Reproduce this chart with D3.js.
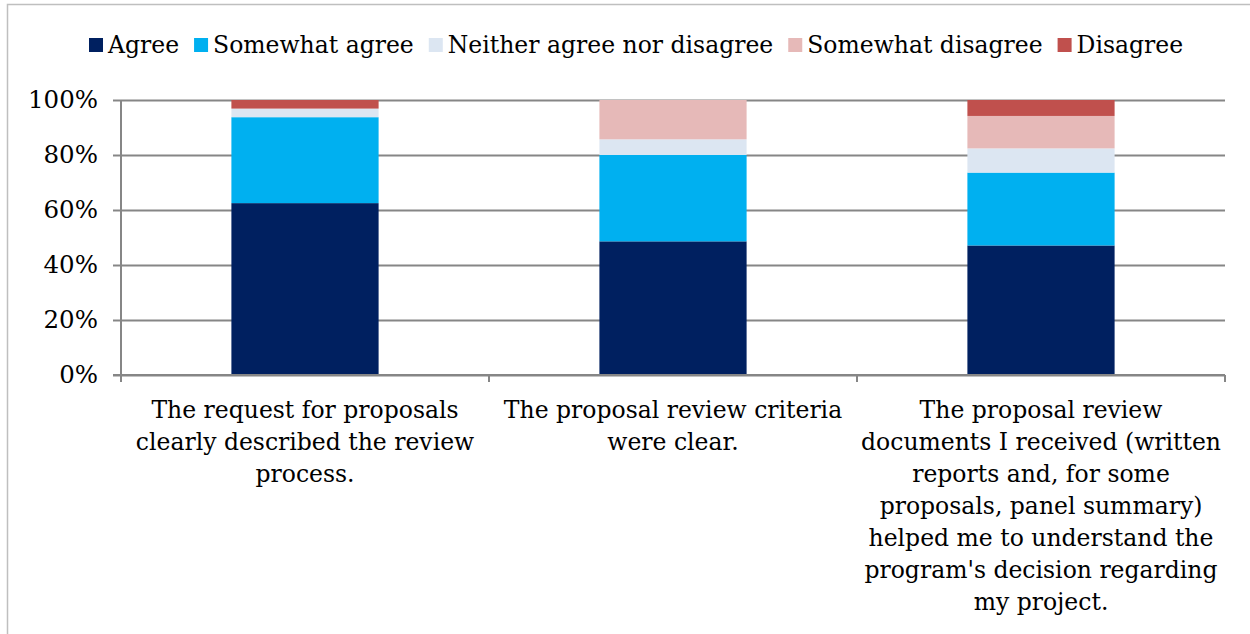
<!DOCTYPE html>
<html>
<head>
<meta charset="utf-8">
<script src="https://cdn.jsdelivr.net/npm/d3@7"></script>
<style>
body{margin:0;background:#fff;}
text{font-family:"DejaVu Serif",serif;fill:#000;}
</style>
</head>
<body>
<div class="chart"></div>
<script>
const categories = [
  "The request for proposals|clearly described the review|process.",
  "The proposal review criteria|were clear.",
  "The proposal review|documents I received (written|reports and, for some|proposals, panel summary)|helped me to understand the|program's decision regarding|my project."
];
const seriesNames = ["Agree","Somewhat agree","Neither agree nor disagree","Somewhat disagree","Disagree"];
const agree = [0.625, 0.486, 0.471];
const somewhatAgree = [0.3125, 0.314, 0.265];
const neither = [0.03125, 0.057, 0.088];
const somewhatDisagree = [0, 0.143, 0.118];
const disagree = [0.03125, 0, 0.058];
const colors = ["#002060","#00B0F0","#DCE6F2","#E6B9B8","#C0504D"];
const yTicks = [0,0.2,0.4,0.6,0.8,1];

const W = 1250, H = 634;
const margin = {top:100, left:121, right:25};
const width = W - margin.left - margin.right, height = 275;
const fs = 23.5;

const rows = categories.map((c,i)=>({cat:c, s0:agree[i], s1:somewhatAgree[i], s2:neither[i], s3:somewhatDisagree[i], s4:disagree[i]}));
const stack = d3.stack().keys(["s0","s1","s2","s3","s4"])(rows);

const svg = d3.select(".chart").append("svg").attr("width",W).attr("height",H);

// outer frame
svg.append("rect").attr("x",7.5).attr("y",4.5).attr("width",W).attr("height",H)
  .attr("fill","none").attr("stroke","#bfbfbf").attr("stroke-width",1.5);

const g = svg.append("g").attr("transform",`translate(${margin.left},${margin.top})`);

const x = d3.scaleBand().domain(categories).range([0,width]).paddingInner(0.6).paddingOuter(0.3);
const xb = d3.scaleBand().domain(categories).range([0,width]);
const y = d3.scaleLinear().domain([0,1]).range([height,0]);

// grid + y axis
g.append("g")
  .call(d3.axisLeft(y).tickValues(yTicks).tickFormat(d3.format(".0%")).tickSize(8).tickPadding(15))
  .call(a=>a.select(".domain").remove())
  .call(a=>a.selectAll(".tick line").attr("stroke","#868686").attr("stroke-width",2))
  .call(a=>a.selectAll(".tick line").clone().attr("x1",0).attr("x2",width).attr("stroke","#868686").attr("stroke-width",2))
  .call(a=>a.selectAll(".tick text").attr("font-size",fs+1).attr("font-family","DejaVu Serif"));

// bars
g.selectAll(".series").data(stack).enter().append("g")
  .attr("fill",(d,i)=>colors[i])
  .selectAll("rect").data(d=>d).enter().append("rect")
  .attr("x",d=>x(d.data.cat))
  .attr("width",x.bandwidth())
  .attr("y",d=>y(d[1]))
  .attr("height",d=>y(d[0])-y(d[1]));

// y axis line
g.append("line").attr("x1",0).attr("x2",0).attr("y1",0).attr("y2",height+7)
  .attr("stroke","#868686").attr("stroke-width",2);

// x axis
g.append("line").attr("x1",-8).attr("x2",width).attr("y1",height).attr("y2",height)
  .attr("stroke","#868686").attr("stroke-width",2);
const bounds = categories.map(c=>xb(c)).concat([width]);
g.selectAll(".xtick").data(bounds).enter().append("line")
  .attr("x1",d=>d).attr("x2",d=>d).attr("y1",height).attr("y2",height+7)
  .attr("stroke","#868686").attr("stroke-width",2);

// category labels
categories.forEach(c=>{
  const t = g.append("text").attr("text-anchor","middle").attr("font-size",fs)
    .attr("x",xb(c)+xb.bandwidth()/2).attr("y",height+43);
  c.split("|").forEach((line,i)=>{
    t.append("tspan").attr("x",xb(c)+xb.bandwidth()/2).attr("dy",i?32:0).text(line);
  });
});

// legend
const legend = svg.append("g").attr("transform","translate(89,45)");
let lx = 0;
seriesNames.forEach((n,i)=>{
  const it = legend.append("g").attr("transform",`translate(${lx},0)`);
  it.append("rect").attr("x",0).attr("y",-7).attr("width",14).attr("height",14).attr("fill",colors[i]);
  const tx = it.append("text").attr("x",19).attr("y",8).attr("font-size",fs).text(n);
  lx += 19 + tx.node().getComputedTextLength() + 15;
});
</script>
</body>
</html>
